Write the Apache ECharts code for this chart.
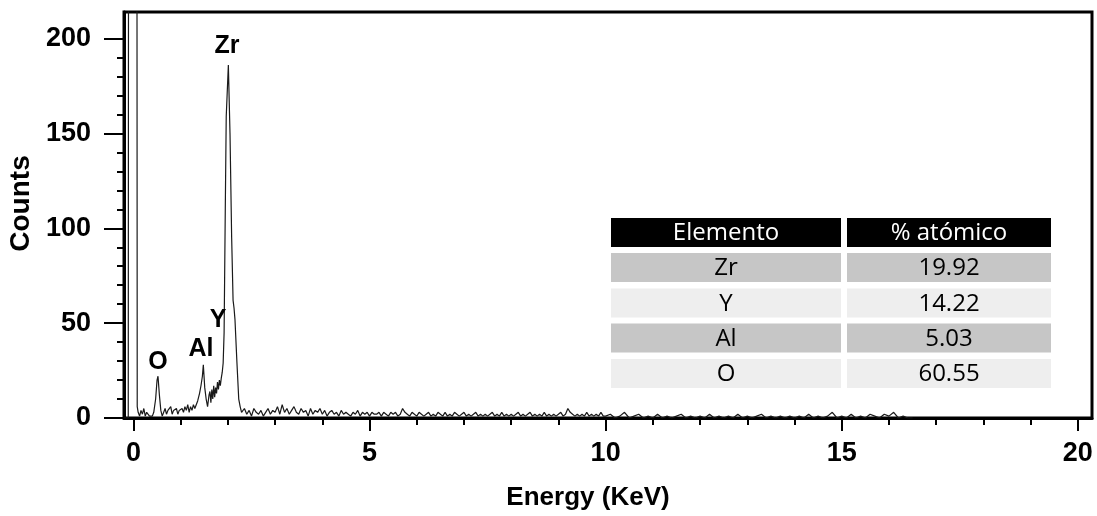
<!DOCTYPE html>
<html><head><meta charset="utf-8">
<script src="https://cdn.jsdelivr.net/npm/echarts@6/dist/echarts.min.js"></script>
<style>html,body{margin:0;padding:0;background:#fff}#c{width:1097px;height:516px}</style>
</head><body><div id="c"></div>
<script>
// Low-energy region (explicit channels, keV / counts)
const peakEnergy = [-0.20,-0.11,-0.09,0.06,0.08,0.10,0.13,0.16,0.19,0.22,0.25,0.28,0.31,0.34,0.37,0.40,0.43,0.47,0.50,0.52,0.55,0.58,0.61,0.64,0.67,0.70,0.73,0.76,0.79,0.82,0.85,0.88,0.91,0.94,0.97,1.00,1.03,1.06,1.09,1.12,1.15,1.18,1.21,1.24,1.27,1.30,1.33,1.36,1.40,1.43,1.46,1.48,1.51,1.54,1.57,1.60,1.62,1.64,1.66,1.68,1.70,1.72,1.74,1.76,1.78,1.80,1.82,1.84,1.86,1.88,1.90,1.92,1.945,1.965,2.01,2.045,2.08,2.11,2.13,2.15,2.19,2.23,2.26,2.29];
const peakCounts = [0,0,900,900,6,3,1,4,2,5,1,3,4,1,2,1,3,10,20,22,12,4,1,2,5,2,4,3,6,2,4,3,5,2,4,3,5,3,6,4,7,3,6,4,7,5,6,9,13,17,22,28,16,10,6,12,14,8,15,10,17,11,16,13,19,15,20,17,21,24,29,45,110,159,186,150,95,62,58,52,30,10,6,3];
// Background channels 2.30–9.95 keV, 0.05 keV wide
const bgStartA = 2.30, bgStepA = 0.05;
const bgCountsA = [3,5,2,4,1,5,3,2,4,1,3,5,2,4,
  3,6,2,7,3,5,2,4,6,3,
  2,5,3,4,1,5,2,4,3,5,
  2,4,1,3,4,2,3,1,4,2,
  3,2,1,3,2,4,1,3,2,3,
  1,3,2,2,3,1,3,2,1,3,
  2,3,1,2,5,3,2,1,3,2,
  1,3,2,1,2,3,1,2,1,3,
  2,1,3,1,2,1,3,2,1,2,
  3,1,2,1,2,3,1,2,1,2,
  1,2,3,1,2,1,3,1,2,1,
  2,1,2,3,1,2,1,2,3,1,
  2,1,2,1,3,1,2,1,2,1,
  2,3,1,2,5,3,2,1,2,1,
  2,1,3,1,2,1,2,1,3,1];
// Background channels 10.0–16.5 keV, 0.1 keV wide
const bgStartB = 10.0, bgStepB = 0.1;
const bgCountsB = [1,2,0,1,3,0,1,2,0,1,
  0,2,0,1,0,1,2,0,1,0,
  1,0,2,0,1,0,1,0,2,0,
  1,0,1,2,0,1,0,1,0,1,
  0,1,0,2,0,1,0,1,3,0,
  1,0,2,0,1,0,2,1,0,2,
  1,3,0,1,0,0];

const peakLabels = ['O','Al','Y','Zr'];
const peakLabelEnergy = [0.52,1.43,1.79,1.98];
const peakLabelCounts = [29.5,36.4,51.7,195.8];

const xMajor = [0,5,10,15,20];
const xMinor = [1,2,3,4,6,7,8,9,11,12,13,14,16,17,18,19];
const yMajor = [0,50,100,150,200];
const yMinor = [10,20,30,40,60,70,80,90,110,120,130,140,160,170,180,190];

const tableHeader = ['Elemento','% atómico'];
const tableElements = ['Zr','Y','Al','O'];
const tablePct = ['19.92','14.22','5.03','60.55'];

const spectrum = [];
peakEnergy.forEach((e,i)=>spectrum.push([e, peakCounts[i]]));
bgCountsA.forEach((c,i)=>spectrum.push([+(bgStartA + i*bgStepA).toFixed(2), c]));
bgCountsB.forEach((c,i)=>spectrum.push([+(bgStartB + i*bgStepB).toFixed(2), c]));

const labelData = peakLabels.map((n,i)=>({name:n, value:[peakLabelEnergy[i], peakLabelCounts[i]]}));

// table graphic
const graphics = [];
const colL = {x:611, w:230}, colR = {x:847, w:204};
const rowY = [218, 253, 288.5, 323.5, 359], rowH = 29;
const fontT = '"Open Sans", sans-serif';
function cell(col, y, fill, text, color){
  graphics.push({type:'rect', shape:{x:col.x, y:y, width:col.w, height:rowH}, style:{fill:fill}, silent:true});
  graphics.push({type:'text', x:col.x+col.w/2, y:y+rowH/2+1, style:{text:text, fill:color, font:'24px '+fontT, textAlign:'center', textVerticalAlign:'middle'}, silent:true});
}
cell(colL, rowY[0], '#000', tableHeader[0], '#fff');
cell(colR, rowY[0], '#000', tableHeader[1], '#fff');
tableElements.forEach((el,i)=>{
  const fill = i%2===0 ? '#c6c6c6' : '#eeeeee';
  cell(colL, rowY[i+1], fill, el, '#000');
  cell(colR, rowY[i+1], fill, tablePct[i], '#000');
});

const fontA = '"Liberation Sans", Arial, sans-serif';
const chart = echarts.init(document.getElementById('c'), null, {renderer:'canvas'});
chart.setOption({
  animation:false,
  backgroundColor:'#fff',
  grid:{left:124, right:5, top:12, bottom:98, containLabel:false, outerBoundsMode:'none',
        show:true, borderColor:'#000', borderWidth:3, backgroundColor:'transparent'},
  xAxis:[{
    type:'value', min:-0.2, max:20.3, position:'bottom',
    axisLine:{show:true, onZero:false, lineStyle:{color:'#000', width:3}},
    axisTick:{show:true, inside:false, customValues:xMajor, length:13, lineStyle:{color:'#000', width:2}},
    axisLabel:{show:true, customValues:xMajor, margin:22, color:'#000', fontSize:27, fontWeight:'bold', fontFamily:fontA},
    splitLine:{show:false},
    name:'Energy (KeV)', nameLocation:'middle', nameGap:67,
    nameTextStyle:{color:'#000', fontSize:26, fontWeight:'bold', fontFamily:fontA, padding:[0,40,0,0]}
  },{
    type:'value', min:-0.2, max:20.3, position:'bottom', offset:0,
    axisLine:{show:false, onZero:false},
    axisTick:{show:true, inside:false, customValues:xMinor, length:7, lineStyle:{color:'#000', width:2}},
    axisLabel:{show:false}, splitLine:{show:false}
  }],
  yAxis:[{
    type:'value', min:0, max:214, position:'left',
    axisLine:{show:true, onZero:false, lineStyle:{color:'#000', width:3}},
    axisTick:{show:true, inside:false, customValues:yMajor, length:20, lineStyle:{color:'#000', width:2}},
    axisLabel:{show:true, customValues:yMajor, margin:33, color:'#000', fontSize:27, fontWeight:'bold', fontFamily:fontA},
    splitLine:{show:false},
    name:'Counts', nameLocation:'middle', nameGap:89,
    nameTextStyle:{color:'#000', fontSize:28, fontWeight:'bold', fontFamily:fontA, padding:[0,0,0,23]}
  },{
    type:'value', min:0, max:214, position:'left', offset:0,
    axisLine:{show:false, onZero:false},
    axisTick:{show:true, inside:false, customValues:yMinor, length:7, lineStyle:{color:'#000', width:2}},
    axisLabel:{show:false}, splitLine:{show:false}
  }],
  series:[{
    type:'line', data:spectrum, xAxisIndex:0, yAxisIndex:0,
    showSymbol:false, symbol:'none', clip:true,
    lineStyle:{color:'#1a1a1a', width:1.2}, z:3
  },{
    type:'scatter', data:labelData, xAxisIndex:0, yAxisIndex:0,
    symbolSize:0, silent:true, itemStyle:{opacity:1},
    label:{show:true, position:'inside', formatter:'{b}', color:'#000', opacity:1, fontSize:25, fontWeight:'bold', fontFamily:fontA}, z:4
  }],
  graphic:graphics
});
</script>
</body></html>
